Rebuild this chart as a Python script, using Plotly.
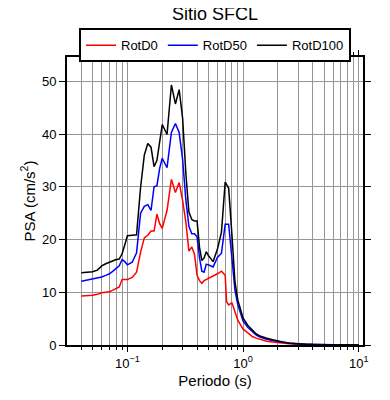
import plotly.graph_objects as go

periods = [0.04, 0.045, 0.05, 0.055, 0.06, 0.065, 0.07, 0.075, 0.08, 0.085, 0.09, 0.095,
           0.1, 0.11, 0.12, 0.13, 0.14, 0.15, 0.16, 0.17, 0.18, 0.19, 0.2, 0.22, 0.24,
           0.26, 0.28, 0.3, 0.32, 0.34, 0.36, 0.38, 0.4, 0.42, 0.44, 0.46, 0.48, 0.5,
           0.55, 0.6, 0.65, 0.7, 0.72, 0.75, 0.8, 0.85, 0.9, 0.95, 1.0, 1.1, 1.2, 1.3,
           1.4, 1.5, 1.6, 1.8, 2.0, 2.2, 2.5, 3.0, 3.5, 4.0, 5.0, 6.0, 7.5, 10.0]

rotd0 = [9.3, 9.35, 9.45, 9.6, 9.9, 10.0, 10.1, 10.4, 10.7, 11.0, 12.4, 12.4,
         12.4, 12.8, 13.8, 17.6, 20.3, 20.8, 21.6, 21.6, 24.8, 23.0, 22.1, 25.5, 31.4,
         28.9, 30.8, 27.4, 23.3, 17.8, 18.6, 17.2, 13.2, 12.2, 11.7, 12.2, 12.4, 12.5,
         13.0, 13.5, 14.0, 13.2, 8.2, 7.6, 8.0, 6.2, 4.7, 3.8, 3.0, 2.3, 1.6, 1.3,
         1.05, 0.85, 0.7, 0.55, 0.4, 0.3, 0.22, 0.13, 0.09, 0.06, 0.04, 0.03, 0.02, 0.01]

rotd50 = [12.1, 12.3, 12.5, 12.7, 12.9, 13.2, 13.5, 14.0, 14.5, 15.0, 16.2, 15.8,
          15.2, 15.7, 17.5, 25.0, 26.3, 26.6, 25.5, 30.0, 30.2, 33.5, 35.4, 33.6, 40.3,
          42.0, 40.3, 35.2, 27.5, 22.5, 21.1, 21.1, 20.5, 16.5, 14.0, 13.8, 15.3, 15.2,
          14.8, 16.6, 17.4, 22.9, 22.9, 22.9, 16.5, 10.4, 7.6, 6.0, 4.5, 3.3, 2.5, 1.85,
          1.5, 1.25, 1.1, 0.85, 0.65, 0.5, 0.35, 0.2, 0.13, 0.09, 0.05, 0.035, 0.025, 0.015]

rotd100 = [13.7, 13.8, 13.9, 14.2, 15.0, 15.4, 15.7, 16.0, 16.2, 16.3, 17.3, 19.0,
           20.7, 20.8, 20.9, 29.9, 36.0, 38.2, 37.5, 33.8, 35.0, 38.5, 41.8, 39.9, 49.3,
           45.7, 48.4, 43.0, 32.5, 25.2, 23.8, 23.5, 23.5, 18.5, 16.0, 16.5, 17.7, 17.0,
           15.8, 18.2, 21.4, 30.9, 30.5, 29.7, 21.0, 12.0, 8.5, 6.8, 5.1, 3.7, 2.8, 2.1,
           1.7, 1.45, 1.3, 1.0, 0.75, 0.55, 0.4, 0.22, 0.15, 0.1, 0.06, 0.04, 0.03, 0.02]

names = ["RotD0", "RotD50", "RotD100"]
colors = ["#ff0000", "#0000ff", "#000000"]
series = [rotd0, rotd50, rotd100]

x_tickvals = [0.1, 1, 10]
x_ticktext = ["10<sup>−1</sup>", "10<sup>0</sup>", "10<sup>1</sup>"]

fig = go.Figure()
for nm, col, vals in zip(names, colors, series):
    fig.add_trace(go.Scatter(x=periods, y=vals, mode="lines", name=nm,
                             line=dict(color=col, width=1.5)))

font_family = "Liberation Sans, Arial, sans-serif"
grid_col = "#959595"

# page body has an 8px default margin, so the figure is 382x392
fig.update_layout(
    width=382, height=392,
    margin=dict(l=59, r=27, t=49, b=55, autoexpand=False),
    paper_bgcolor="white", plot_bgcolor="white",
    font=dict(family=font_family, color="black", size=13),
    title=dict(text="Sitio SFCL", x=0.5, xref="paper", xanchor="center",
               y=0.986, yref="container", yanchor="middle",
               font=dict(size=18, color="black")),
    legend=dict(orientation="h", x=0.5, xanchor="center", y=1.1, yanchor="top",
                bordercolor="black", borderwidth=2, bgcolor="white",
                font=dict(size=13), tracegroupgap=0, itemwidth=30),
    showlegend=True,
)

fig.update_xaxes(
    type="log", range=[-1.522, 1.036], automargin=False,
    tickvals=x_tickvals, ticktext=x_ticktext,
    ticks="outside", ticklen=5, tickcolor="black", tickwidth=1,
    showline=True, linecolor="black", linewidth=2, mirror="allticks",
    showgrid=True, gridcolor=grid_col, gridwidth=1,
    minor=dict(tickvals=[m * 10 ** e for e in (-2, -1, 0, 1) for m in range(2, 10)],
               ticks="outside", ticklen=3, tickcolor="black",
               showgrid=True, gridcolor=grid_col, gridwidth=1),
    title=dict(text="Periodo (s)", font=dict(size=15), standoff=6),
    tickfont=dict(size=13),
    zeroline=False,
)

fig.update_yaxes(
    range=[0, 54.6], tickvals=[0, 10, 20, 30, 40, 50], automargin=False,
    ticks="outside", ticklen=6, tickcolor="black", tickwidth=1,
    showline=True, linecolor="black", linewidth=2, mirror="allticks",
    showgrid=True, gridcolor=grid_col, gridwidth=1,
    title=dict(text="PSA (cm/s<sup>2</sup>)", font=dict(size=15), standoff=3),
    tickfont=dict(size=13),
    zeroline=False,
)

fig.write_html("out.html")
